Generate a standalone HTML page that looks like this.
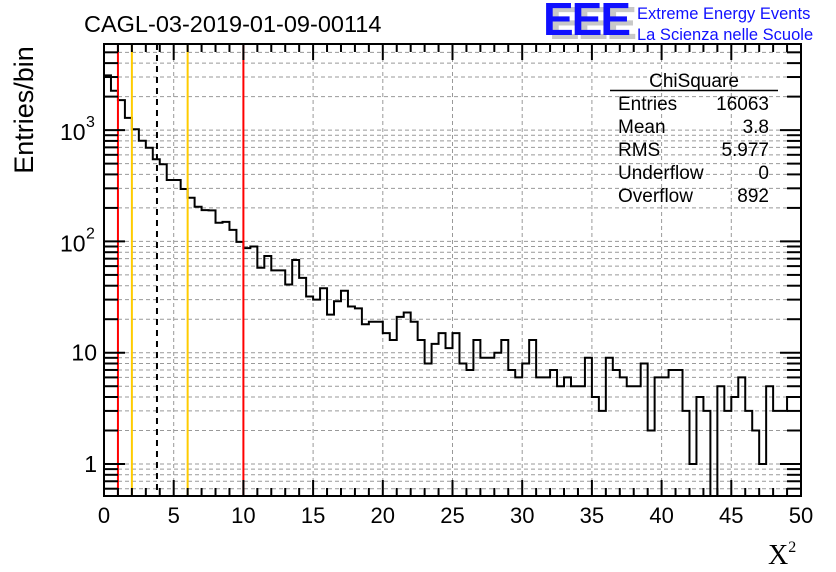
<!DOCTYPE html>
<html><head><meta charset="utf-8"><style>
body{margin:0;background:#fff;}
svg{display:block;font-family:"Liberation Sans",sans-serif;}
</style></head><body>
<svg id="c" width="836" height="572" viewBox="0 0 836 572">
<g id="grid"></g>
<g id="hist"></g>
<g id="vlines"></g>
<g id="axes"></g>
<text x="84" y="32" font-size="23.5">CAGL-03-2019-01-09-00114</text>
<g>
<text x="549" y="39" font-size="46" font-weight="bold" fill="#c8c8c8" letter-spacing="-2">EEE</text>
<text x="543" y="35" font-size="46" font-weight="bold" fill="#1010ff" letter-spacing="-2">EEE</text>
<text x="637" y="19" font-size="16.5" fill="#1010ff">Extreme Energy Events</text>
<text x="637" y="40" font-size="16.5" fill="#1010ff">La Scienza nelle Scuole</text>
</g>
<g font-size="19">
<text x="694" y="87" text-anchor="middle">ChiSquare</text>
<line x1="610" y1="90.5" x2="778" y2="90.5" stroke="#000" stroke-width="1.5"/>
<text x="618" y="110">Entries</text><text x="769" y="110" text-anchor="end">16063</text>
<text x="618" y="133">Mean</text><text x="769" y="133" text-anchor="end">3.8</text>
<text x="618" y="156">RMS</text><text x="769" y="156" text-anchor="end">5.977</text>
<text x="618" y="179">Underflow</text><text x="769" y="179" text-anchor="end">0</text>
<text x="618" y="202">Overflow</text><text x="769" y="202" text-anchor="end">892</text>
</g>
<text transform="translate(33,110) rotate(-90)" text-anchor="middle" font-size="27">Entries/bin</text>
<text x="768" y="564" font-size="28" font-family="'Liberation Serif',serif">X<tspan font-size="16" dy="-12">2</tspan></text>
</svg>
<script>
const counts=[3100,2260,1860,1290,1017,803,695,547,493,356,356,296,247,205,191,190,147,150,127,99,87,90,58,74,55,55,41,68,47,32,30,38,22,29,36,26,25,18,19,19,15,13,21,23,19,13,8,12,15,11,15,8,7,13,9,9,10,13,7,6,8,13,6,6,7,5,6,5,5,9,4,3,9,7,6,5,5,8,2,6,6,7,7,3,1,4,3,0,5,3,4,6,3,2,1,5,3,3,4,4];
const binWidth=0.5;
const xTicks=[0,5,10,15,20,25,30,35,40,45,50];
const refLines=[1,2,3.8,6,10];
const refColors=['#ff0000','#ffcc00','#000','#ffcc00','#ff0000'];
const X0=104,X1=801,Y0=496,Y1=44,XMIN=0,XMAX=50,LMIN=Math.log10(0.516),LMAX=Math.log10(5940);
const sx=v=>X0+(v-XMIN)/(XMAX-XMIN)*(X1-X0);
const sy=v=>v<=0?Y0:Y0-(Math.log10(v)-LMIN)/(LMAX-LMIN)*(Y0-Y1);
const NS='http://www.w3.org/2000/svg';
function mk(t,a,p){const e=document.createElementNS(NS,t);for(const k in a)e.setAttribute(k,a[k]);p.appendChild(e);return e;}
const grid=document.getElementById('grid'),axes=document.getElementById('axes');
for(const t of xTicks){if(t>XMIN&&t<XMAX){const l=mk('line',{x1:sx(t),x2:sx(t),y1:Y1,y2:Y0,stroke:'#999','stroke-dasharray':'4,3','stroke-width':1},grid);

}}
for(let d=-1;d<=3;d++)for(let m=1;m<=9;m++){const v=m*Math.pow(10,d);const y=sy(v);if(y<Y1||y>Y0)continue;
const l=mk('line',{x1:X0,x2:X1,y1:y,y2:y,stroke:'#999','stroke-dasharray':'4,3','stroke-width':1},grid);


const big=m===1;
mk('line',{x1:X0,x2:X0+(big?21:14),y1:y,y2:y,stroke:'#000','stroke-width':2},axes);
mk('line',{x1:X1,x2:X1-(big?21:14),y1:y,y2:y,stroke:'#000','stroke-width':2},axes);}
let d='M'+sx(0)+','+Y0;
counts.forEach((c,i)=>{const y=sy(c);d+=' L'+sx(i*binWidth)+','+y+' L'+sx((i+1)*binWidth)+','+y;});
d+=' L'+sx(counts.length*binWidth)+','+Y0;
const hp=mk('path',{d:d,fill:'none',stroke:'#000','stroke-width':2},document.getElementById('hist'));


refLines.forEach((v,i)=>{const l=mk('line',{x1:sx(v),x2:sx(v),y1:Y1,y2:Y0,stroke:refColors[i],'stroke-width':2},document.getElementById('vlines'));
if(i===2)l.setAttribute('stroke-dasharray','6,5');

});
const fr=mk('rect',{x:X0,y:Y1,width:X1-X0,height:Y0-Y1,fill:'none',stroke:'#000','stroke-width':2},axes);


for(let t=XMIN;t<=XMAX;t++){const big=t%5===0;const x=sx(t);
mk('line',{x1:x,x2:x,y1:Y0,y2:Y0-(big?16:8),stroke:'#000','stroke-width':2},axes);
mk('line',{x1:x,x2:x,y1:Y1,y2:Y1+(big?16:8),stroke:'#000','stroke-width':2},axes);}
xTicks.forEach(t=>{const tx=mk('text',{x:sx(t),y:523,'text-anchor':'middle','font-size':22},axes);tx.textContent=t;

});
[[1,'1'],[10,'10']].forEach(([v,s])=>{const tx=mk('text',{x:97,y:sy(v)+8,'text-anchor':'end','font-size':23},axes);tx.textContent=s;

});
[[100,'2'],[1000,'3']].forEach(([v,e])=>{const tx=mk('text',{x:60,y:sy(v)+10,'font-size':23},axes);tx.textContent='10';


const ex=mk('text',{x:86,y:sy(v)-3,'font-size':16},axes);ex.textContent=e;

});
</script>
</body></html>
